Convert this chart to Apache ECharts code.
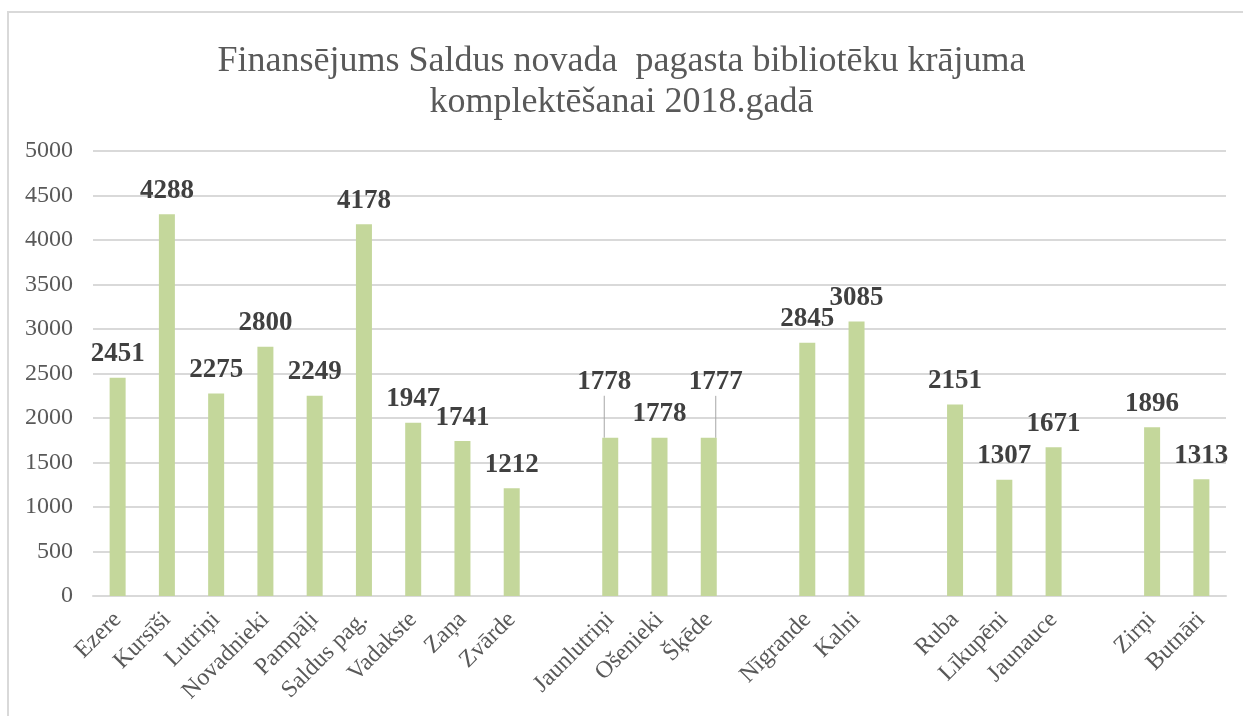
<!DOCTYPE html>
<html>
<head>
<meta charset="utf-8">
<script src="https://cdn.jsdelivr.net/npm/echarts@6/dist/echarts.min.js"></script>
<style>
    html, body { margin: 0; padding: 0; background: #fff; }
    #frame { position: absolute; left: 7px; top: 11px; width: 1250px; height: 720px;
             border-left: 2px solid #d9d9d9; border-top: 2px solid #d9d9d9; }
    #chart { position: absolute; left: 0; top: 0; width: 1243px; height: 716px; }
</style>
</head>
<body>
<div id="frame"></div>
<div id="chart"></div>
<script>
    // empty names are the gaps between groups of parishes
    var categories = ['Ezere', 'Kursīši', 'Lutriņi', 'Novadnieki', 'Pampāļi', 'Saldus pag.', 'Vadakste', 'Zaņa', 'Zvārde', '',
        'Jaunlutriņi', 'Ošenieki', 'Šķēde', '',
        'Nīgrande', 'Kalni', '',
        'Ruba', 'Līkupēni', 'Jaunauce', '',
        'Zirņi', 'Butnāri'];
    var values = [2451, 4288, 2275, 2800, 2249, 4178, 1947, 1741, 1212, null,
        1778, 1778, 1777, null,
        2845, 3085, null,
        2151, 1307, 1671, null,
        1896, 1313];
    var yTicks = [0, 500, 1000, 1500, 2000, 2500, 3000, 3500, 4000, 4500, 5000];

    var serif = '"Liberation Serif", "Times New Roman", serif';

    // labels that Excel pulled up with a leader line
    var moved = {10: {dx: -6, dy: -32}, 12: {dx: 7, dy: -32}};

    var barData = values.map(function (v, i) {
        if (v === null) return '-';
        if (moved[i]) return {value: v, labelLine: {show: true}};
        return v;
    });

    var chartDom = document.getElementById('chart');
    var myChart = echarts.init(chartDom);
    var option;

    option = {
        animation: false,
        title: {
            text: 'Finansējums Saldus novada  pagasta bibliotēku krājuma\nkomplektēšanai 2018.gadā',
            left: 'center',
            top: 36,
            textStyle: {
                fontFamily: serif,
                fontWeight: 'normal',
                fontSize: 36,
                lineHeight: 41,
                color: '#595959'
            }
        },
        grid: {
            left: 93,
            right: 17,
            top: 151,
            bottom: 120
        },
        xAxis: {
            type: 'category',
            data: categories,
            axisLine: {lineStyle: {color: '#d9d9d9', width: 2}},
            axisTick: {show: false},
            axisLabel: {
                interval: 0,
                rotate: 45,
                margin: 20,
                fontFamily: serif,
                fontSize: 24,
                color: '#595959'
            }
        },
        yAxis: {
            type: 'value',
            min: yTicks[0],
            max: yTicks[yTicks.length - 1],
            interval: 500,
            axisLine: {show: false},
            axisTick: {show: false},
            splitLine: {lineStyle: {color: '#d9d9d9', width: 2}},
            axisLabel: {
                margin: 20,
                formatter: function (v) { return String(v); },
                fontFamily: serif,
                fontSize: 24,
                color: '#595959'
            }
        },
        series: [{
            type: 'bar',
            data: barData,
            barWidth: 16,
            itemStyle: {color: '#c4d79b'},
            label: {
                show: true,
                position: 'top',
                distance: 10,
                fontFamily: serif,
                fontWeight: 'bold',
                fontSize: 27,
                color: '#404040'
            },
            labelLine: {
                lineStyle: {color: '#a6a6a6', width: 1}
            },
            labelLayout: function (params) {
                var m = moved[params.dataIndex];
                return m ? {dx: m.dx, dy: m.dy} : {};
            }
        }]
    };

    option && myChart.setOption(option);
</script>
</body>
</html>
